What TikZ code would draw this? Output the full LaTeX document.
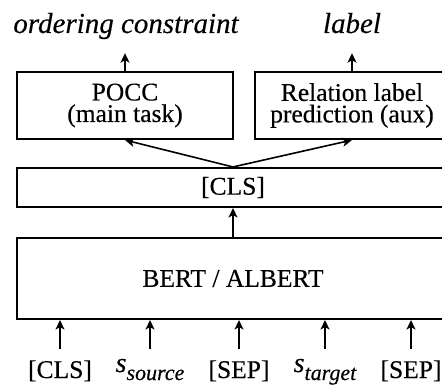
\documentclass[tikz,border=0pt]{standalone}
\usepackage{fontspec}
\setmainfont{Liberation Serif}[FakeBold=0.3, ItalicFeatures={FakeBold=0.3}]
\usetikzlibrary{arrows.meta}

% token with an italic subscript, set as text
\newcommand\tokensub[2]{{\itshape\raisebox{6pt}{\fontsize{28}{28}\selectfont #1}\raisebox{-2pt}{\fontsize{22}{22}\selectfont #2}}}

\begin{document}
\begin{tikzpicture}[x=1pt,y=-1pt]
\tikzset{
  blk/.style={draw, line width=2.1pt, inner sep=0pt, align=center,
              font=\fontsize{25.5}{21.5}\selectfont},
  arr/.style={line width=1.6pt, -{Stealth[length=9.5pt,width=9pt,inset=2.5pt]}},
  tok/.style={inner sep=0pt, anchor=base, text height=29pt,
              font=\fontsize{25.5}{30}\selectfont},
  outlbl/.style={inner sep=0pt, anchor=base, text depth=20pt,
              font=\fontsize{29}{30}\selectfont\itshape},
}
\clip (0,0) rectangle (442,385);

% task heads
\node[blk, minimum width=216pt, minimum height=67pt] (pocc) at (125,105.5) {POCC\\(main task)};
\node[blk, minimum width=194pt, minimum height=67pt] (rel) at (352,105.5) {Relation label\\prediction (aux)};

% pooled token and encoder
\node[blk, minimum width=432pt, minimum height=39pt] (cls) at (233,187.5) {[CLS]};
\node[blk, minimum width=432pt, minimum height=81pt] (bert) at (233,278.5) {BERT / ALBERT};

% outputs
\node[outlbl] (o1) at (126,33) {ordering constraint};
\node[outlbl] (o2) at (352,33) {label};

% input tokens
\node[tok] (t1) at (60,378) {[CLS]};
\node[tok] (t2) at (150,378) {\tokensub{s}{source}};
\node[tok] (t3) at (239,378) {[SEP]};
\node[tok] (t4) at (325,378) {\tokensub{s}{target}};
\node[tok] (t5) at (411,378) {[SEP]};

% connectors
\draw[arr] (pocc.north) -- (pocc.north |- o1.south);
\draw[arr] (rel.north) -- (rel.north |- o2.south);
\draw[arr] (cls.north) -- (pocc.south);
\draw[arr] (cls.north) -- (rel.south);
\draw[arr] (bert.north) -- (cls.south);
\foreach \t in {t1,t2,t3,t4,t5}
  \draw[arr] (\t.north) -- (\t.north |- bert.south);
\end{tikzpicture}
\end{document}
